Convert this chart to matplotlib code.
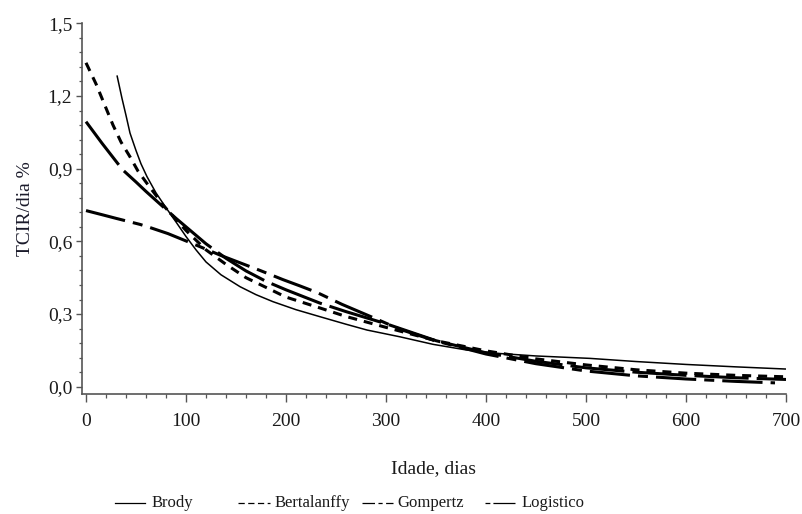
import matplotlib
matplotlib.use("Agg")
import matplotlib.pyplot as plt
from matplotlib.lines import Line2D
from matplotlib.ticker import MultipleLocator, FuncFormatter

plt.rcParams['lines.scale_dashes'] = False
plt.rcParams['font.family'] = ['Liberation Serif', 'DejaVu Serif']

# ---- data ----
brody_x = [31, 36, 40, 44, 50, 55, 61, 70, 79, 90, 100, 110, 120, 135, 154, 170, 187, 210,
           234, 260, 281, 314, 347, 380, 414, 450, 504, 550, 600, 650, 700]
brody_y = [1.285, 1.19, 1.12, 1.047, 0.975, 0.92, 0.867, 0.80, 0.745, 0.68, 0.62, 0.565,
           0.515, 0.462, 0.413, 0.38, 0.351, 0.318, 0.289, 0.258, 0.234, 0.206, 0.175, 0.152,
           0.137, 0.127, 0.117, 0.104, 0.092, 0.082, 0.073]

bert_x = [0, 10, 20, 27, 35, 44, 52, 61, 70, 77, 90, 100, 120, 140, 160, 180, 200, 234,
          260, 300, 350, 400, 450, 500, 550, 600, 650, 700]
bert_y = [1.337, 1.25, 1.15, 1.08, 1.01, 0.949, 0.89, 0.839, 0.79, 0.75, 0.69, 0.645,
          0.565, 0.505, 0.45, 0.41, 0.37, 0.325, 0.29, 0.245, 0.19, 0.148, 0.115, 0.09,
          0.07, 0.056, 0.047, 0.041]

gomp_x = [0, 16, 32, 37, 50, 60, 77, 90, 100, 120, 140, 160, 180, 200, 234, 260, 300,
          350, 400, 450, 500, 550, 600, 650, 700]
gomp_y = [1.094, 1.005, 0.92, 0.894, 0.845, 0.806, 0.743, 0.695, 0.66, 0.59, 0.53, 0.478,
          0.435, 0.40, 0.345, 0.31, 0.26, 0.19, 0.14, 0.105, 0.078, 0.06, 0.047, 0.037, 0.030]

logi_x = [0, 17, 30, 54, 64, 82, 104, 114, 136, 155, 174, 197, 214, 231, 256, 289, 314,
          349, 400, 450, 500, 550, 600, 650, 689]
logi_y = [0.727, 0.709, 0.695, 0.670, 0.657, 0.632, 0.595, 0.578, 0.540, 0.51, 0.480,
          0.442, 0.416, 0.389, 0.340, 0.282, 0.237, 0.190, 0.135, 0.095, 0.065, 0.045,
          0.032, 0.022, 0.016]

labels = ["Brody", "Bertalanffy", "Gompertz", "Logistico"]
xticks = [0, 100, 200, 300, 400, 500, 600, 700]
yticks = [0.0, 0.3, 0.6, 0.9, 1.2, 1.5]

# ---- styles ----
styles = [
    dict(lw=1.1, ls='-'),
    dict(lw=2.2, dashes=(6.5, 5.0)),
    dict(lw=2.2, dashes=(39, 5.8)),
    dict(lw=2.2, dashes=(29, 5.8, 7.2, 5.8)),
]
leg_styles = [
    dict(lw=0.9, ls='-'),
    dict(lw=0.9, dashes=(4.5, 2.5)),
    dict(lw=0.9, dashes=(9, 2.5, 3, 2.5)),
    dict(lw=0.9, dashes=(3.5, 2.2, 16, 2.2)),
]

fig = plt.figure(figsize=(8.03, 5.14), dpi=100)
ax = fig.add_axes([82 / 803, 1 - 394 / 514, (786 - 82) / 803, (394 - 23.3) / 514])

series = [(brody_x, brody_y), (bert_x, bert_y), (gomp_x, gomp_y), (logi_x, logi_y)]
for (xs, ys), st, lab in zip(series, styles, labels):
    ax.plot(xs, ys, color='black', label=lab, solid_capstyle='butt',
            dash_capstyle='butt', solid_joinstyle='round', **st)

ax.set_xlim(-4, 700)
ax.set_ylim(-0.030, 1.5)
ax.set_xticks(xticks)
ax.set_yticks(yticks)
ax.xaxis.set_minor_locator(MultipleLocator(20))
ax.yaxis.set_minor_locator(MultipleLocator(0.06))
ax.yaxis.set_major_formatter(FuncFormatter(lambda v, p: f"{v:.1f}".replace('.', ',')))

for s in ['top', 'right']:
    ax.spines[s].set_visible(False)
for s in ['left', 'bottom']:
    ax.spines[s].set_color('#555555')
    ax.spines[s].set_linewidth(1.2)

ax.tick_params(axis='both', which='both', direction='out', color='#555555',
               labelsize=14, labelcolor='#1a1a1a')
ax.tick_params(axis='y', which='major', length=4, width=1.0, pad=3)
ax.tick_params(axis='y', which='minor', length=2.5, width=0.9)
ax.tick_params(axis='x', which='major', length=6, width=1.0, pad=8)
ax.tick_params(axis='x', which='minor', length=3, width=0.9)

ax.set_xlabel("Idade, dias", fontsize=14, labelpad=21, color='#1a1a1a')
ax.set_ylabel("TCIR/dia %", fontsize=14, labelpad=10, color='#1a1a2a')

# ---- legend (bottom, drawn in figure coordinates) ----
leg_y = 1 - 503 / 514
line_x = [(115, 145), (238, 270), (362, 393), (485, 515)]
text_x = [152, 275, 397, 522]
for (x0, x1), tx, st, lab in zip(line_x, text_x, leg_styles, labels):
    fig.add_artist(Line2D([x0 / 803, x1 / 803], [leg_y, leg_y], color='black',
                          transform=fig.transFigure, **st))
    fig.text(tx / 803, leg_y, lab, fontsize=12, va='center', ha='left', color='#1a1a1a')

fig.savefig("out.png", dpi=100)
